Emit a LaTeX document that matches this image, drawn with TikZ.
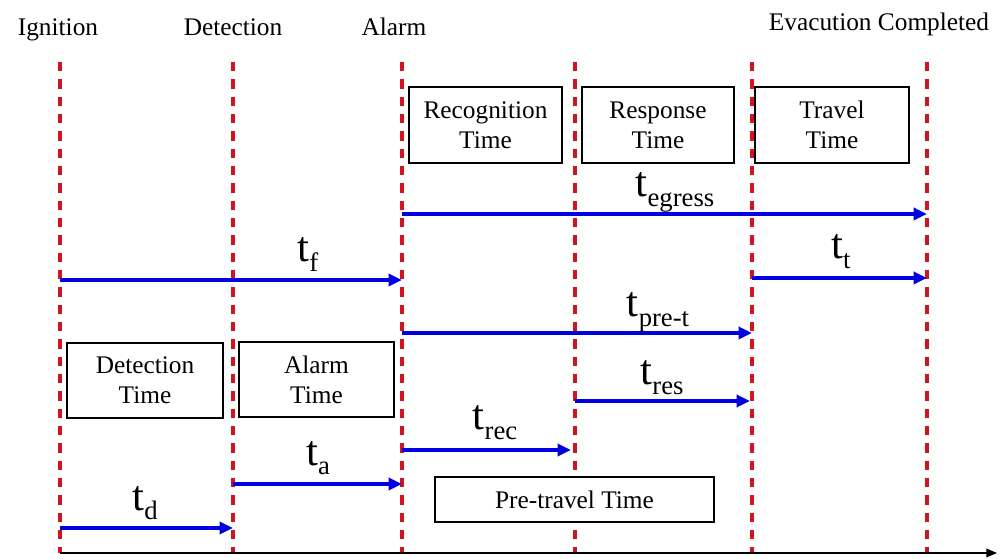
\documentclass[tikz,border=0pt]{standalone}
\usepackage{fontspec}
\setmainfont{Liberation Serif}
\usetikzlibrary{arrows.meta}
\definecolor{markred}{RGB}{210,20,30}
\definecolor{arrowblue}{RGB}{0,0,225}
\newcommand{\tsym}[1]{{\fontsize{32}{34}\selectfont t}\raisebox{-7pt}{\fontsize{20}{22}\selectfont #1}}

\begin{document}
\begin{tikzpicture}[
  x=0.75pt, y=-0.75pt,
  font=\fontsize{19}{22.5}\selectfont,
  event/.style={anchor=base, inner sep=0pt},
  tlabel/.style={anchor=base, inner sep=0pt},
  marker/.style={draw=markred, line width=2.6pt, dash pattern=on 7pt off 6pt},
  phase/.style={draw, line width=1.1pt, fill=white, align=center, inner sep=0pt},
  tarrow/.style={draw=arrowblue, line width=3pt, -{Triangle[length=10pt,width=9pt]}},
  axis/.style={line width=1.1pt, -{Triangle[length=8pt,width=6.5pt]}}
]
\useasboundingbox (0,0) rectangle (1003,559);

\coordinate (origin) at (60,553);
\coordinate (axisend) at (997,553);
\foreach \name/\x in {ign/60,det/233,alm/402,rec/575,res/752,evac/927}
  \coordinate (\name) at (\x,62);
\foreach \name in {ign,det,alm,rec,res,evac}
  \draw[marker] (\name) -- (\name |- origin);
\draw[axis] (origin) -- (axisend);

\node[event] (ignlbl) at (58,36) {Ignition};
\node[event] (detlbl) at (233,36) {Detection};
\node[event] (almlbl) at (394,36) {Alarm};
\node[event] (evaclbl) at (879,31) {Evacution Completed};

\node[phase, minimum width=114.75pt, minimum height=57pt] (recbox) at (485.5,125) {Recognition\\Time};
\node[phase, minimum width=114pt, minimum height=57pt] (resbox) at (658,125) {Response\\Time};
\node[phase, minimum width=115.5pt, minimum height=57pt] (travbox) at (832,125) {Travel\\Time};
\node[phase, minimum width=117pt, minimum height=56pt] (detbox) at (145,380.5) {Detection\\Time};
\node[phase, minimum width=116pt, minimum height=56pt] (almbox) at (316.5,379.5) {Alarm\\Time};
\node[phase, minimum width=209pt, minimum height=34pt] (prebox) at (574.5,499.5) {Pre-travel Time};

\draw[tarrow] (alm |- 0,214) -- (evac |- 0,214);
\draw[tarrow] (ign |- 0,280) -- (alm |- 0,280);
\draw[tarrow] (res |- 0,278) -- (evac |- 0,278);
\draw[tarrow] (alm |- 0,333) -- (res |- 0,333);
\draw[tarrow] (rec |- 0,401) -- ([xshift=-1.5pt]res |- 0,401);
\draw[tarrow] (alm |- 0,450) -- ([xshift=-3pt]rec |- 0,450);
\draw[tarrow] (det |- 0,484) -- (alm |- 0,484);
\draw[tarrow] (ign |- 0,528) -- (det |- 0,528);

\node[tlabel] (tegress) at (675,197) {\tsym{egress}};
\node[tlabel] (tf) at (308,262) {\tsym{f}};
\node[tlabel] (tt) at (841,259) {\tsym{t}};
\node[tlabel] (tpret) at (658,317) {\tsym{pre-t}};
\node[tlabel] (tres) at (662,385) {\tsym{res}};
\node[tlabel] (trec) at (495,430) {\tsym{rec}};
\node[tlabel] (ta) at (318,465) {\tsym{a}};
\node[tlabel] (td) at (145,510) {\tsym{d}};
\end{tikzpicture}
\end{document}
